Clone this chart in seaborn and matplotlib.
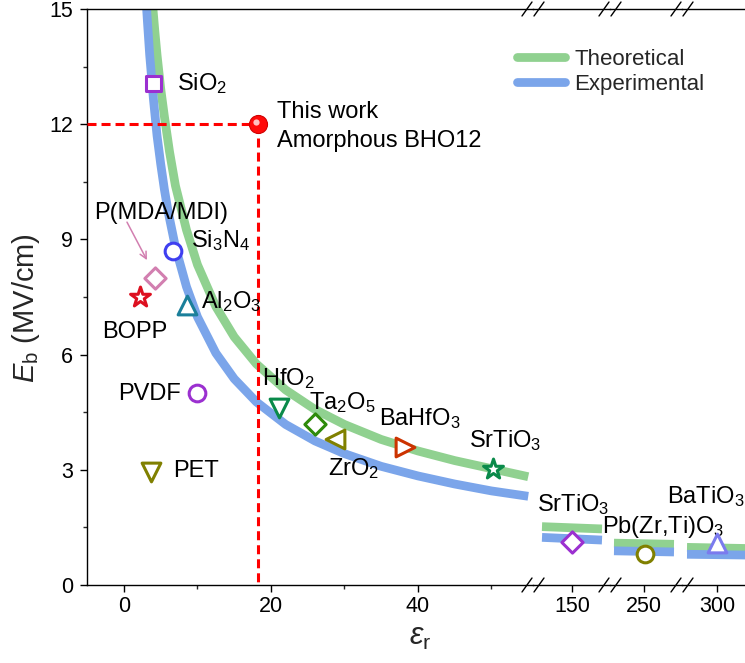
import numpy as np
import pandas as pd
import matplotlib
matplotlib.use("Agg")
import matplotlib.pyplot as plt
import seaborn as sns
from matplotlib.lines import Line2D
from matplotlib.ticker import NullLocator
from matplotlib.transforms import offset_copy

# ---------------- data ----------------
# segment 1 curves (eps_r 0..55)
theo_x1 = [3.9, 4.2, 4.5, 5.0, 5.5, 6.2, 7.0, 8.5, 10, 12.5, 15, 18, 22, 26, 30, 35, 40, 45, 50, 55]
theo_y1 = [15.1, 14.42, 13.8, 12.92, 12.2, 11.28, 10.4, 9.25, 8.34, 7.25, 6.46, 5.76, 5.08, 4.57, 4.18, 3.79, 3.49, 3.24, 3.03, 2.82]
exp_x1 = [2.95, 3.2, 3.5, 4.0, 4.5, 5.0, 5.5, 6.0, 7.0, 8.5, 10, 12.5, 15, 18, 22, 26, 30, 35, 40, 45, 50, 55]
exp_y1 = [15.4, 14.65, 13.8, 12.67, 11.7, 10.96, 10.3, 9.73, 8.8, 7.77, 6.98, 6.04, 5.37, 4.77, 4.18, 3.75, 3.42, 3.09, 2.84, 2.63, 2.45, 2.31]
# broken segments
theo_x2, theo_y2 = [140, 160], [1.52, 1.46]
exp_x2, exp_y2 = [140, 160], [1.24, 1.17]
theo_x3, theo_y3 = [240, 260], [1.09, 1.06]
exp_x3, exp_y3 = [240, 260], [0.89, 0.86]
theo_x4, theo_y4 = [290, 310], [0.98, 0.95]
exp_x4, exp_y4 = [290, 310], [0.80, 0.78]

# literature points: name, eps_r, Eb, marker, colour, segment
pt_names = ["SiO2", "Si3N4", "P(MDA/MDI)", "BOPP", "Al2O3", "PVDF", "PET", "HfO2",
            "Ta2O5", "ZrO2", "BaHfO3", "SrTiO3", "SrTiO3 (bulk)", "PZT", "BaTiO3"]
pt_x = [3.95, 6.67, 4.2, 2.24, 8.57, 10.0, 3.67, 21.1, 26.05, 28.7, 38.3, 50.2, 150, 250.3, 300]
pt_y = [13.07, 8.7, 8.0, 7.49, 7.28, 5.0, 2.93, 4.62, 4.2, 3.79, 3.59, 3.02, 1.11, 0.81, 1.09]
pt_marker = ["s", "o", "D", "*", "^", "o", "v", "v", "D", "<", ">", "*", "D", "o", "^"]
pt_color = ["#9B30D0", "#3F3FF0", "#D27FB0", "#DD1020", "#1B7F9A", "#9B30D0", "#808000",
            "#0A8A4A", "#2E8B0A", "#808000", "#CC3300", "#0A8A4A", "#9B30D0", "#808000", "#7B7BEE"]
pt_seg = [0, 0, 0, 0, 0, 0, 0, 0, 0, 0, 0, 0, 1, 2, 3]

# this work
this_x, this_y = 18.3, 12.0

# annotation labels: text, x, y (baseline), segment
lab_text = ["SiO$_2$", "This work", "Amorphous BHO12", "P(MDA/MDI)", "Si$_3$N$_4$", "BOPP",
            "Al$_2$O$_3$", "PVDF", "PET", "HfO$_2$", "Ta$_2$O$_5$", "ZrO$_2$", "BaHfO$_3$",
            "SrTiO$_3$", "SrTiO$_3$", "Pb(Zr,Ti)O$_3$", "BaTiO$_3$"]
lab_x = [7.25, 20.77, 20.77, -4.08, 9.07, -3.0, 10.43, -0.78, 6.62, 18.82, 25.2, 27.8, 34.7,
         46.98, 138.2, 235.9, 257.8]
lab_y = [12.88, 12.15, 11.41, 9.54, 8.81, 6.43, 7.2, 4.82, 2.82, 5.21, 4.58, 2.86, 4.17,
         3.6, 1.93, 1.35, 2.14]
lab_seg = [0] * 14 + [1, 2, 2]

series_names = ["Theoretical", "Experimental"]
yticks = [0, 3, 6, 9, 12, 15]
seg_xticks = [[0, 20, 40], [150], [250], [300]]
seg_xlims = [(-5.03, 55.65), (137.0, 162.67), (238.67, 262.67), (288.33, 309.33)]

# ---------------- style ----------------
sns.set_style("ticks")
plt.rcParams["font.family"] = ["Liberation Sans", "DejaVu Sans"]
plt.rcParams["mathtext.fontset"] = "custom"
plt.rcParams["mathtext.rm"] = "Liberation Sans"
plt.rcParams["mathtext.it"] = "Liberation Sans:italic"
plt.rcParams["mathtext.sf"] = "Liberation Sans"
plt.rcParams["mathtext.default"] = "regular"

GREEN = "#90D190"
BLUE = "#7BA5EA"
LW = 6.3

W, H = 745, 663
fig = plt.figure(figsize=(W / 100, H / 100), dpi=100)
fig.patch.set_facecolor("white")

def fx(px):
    return px / W

def fy(py):
    return 1 - py / H

bounds = [87, 533, 610, 682, 745]
bottom, top = fy(585), fy(9)
axes = []
for i in range(4):
    ax = fig.add_axes([fx(bounds[i]), bottom, fx(bounds[i + 1]) - fx(bounds[i]), top - bottom])
    ax.set_facecolor("none")
    ax.set_xlim(*seg_xlims[i])
    ax.set_ylim(0, 15)
    for s in ax.spines.values():
        s.set_linewidth(1.0)
        s.set_color("black")
    ax.spines["right"].set_visible(False)
    if i > 0:
        ax.spines["left"].set_visible(False)
        ax.tick_params(axis="y", left=False, labelleft=False, which="both")
    ax.set_xticks(seg_xticks[i])
    if i == 0:
        ax.set_xticks([10, 30, 50], minor=True)
        ax.set_yticks(yticks)
        ax.set_yticks([1.5, 4.5, 7.5, 10.5, 13.5], minor=True)
    else:
        ax.xaxis.set_minor_locator(NullLocator())
    ax.tick_params(which="major", direction="out", length=5, width=1, labelsize=15.5,
                   colors="black")
    ax.tick_params(which="minor", direction="out", length=3, width=1)
    ax.tick_params(axis="x", pad=3)
    ax.tick_params(axis="y", pad=5)
    axes.append(ax)

ax1 = axes[0]

# ---------------- curves ----------------
curve_sets = [
    (theo_x1, theo_y1, exp_x1, exp_y1),
    (theo_x2, theo_y2, exp_x2, exp_y2),
    (theo_x3, theo_y3, exp_x3, exp_y3),
    (theo_x4, theo_y4, exp_x4, exp_y4),
]
for ax, (tx, ty, ex, ey) in zip(axes, curve_sets):
    sns.lineplot(x=tx, y=ty, ax=ax, color=GREEN, linewidth=LW, sort=False,
                 estimator=None, solid_capstyle="butt", solid_joinstyle="round", zorder=2)
    sns.lineplot(x=ex, y=ey, ax=ax, color=BLUE, linewidth=LW, sort=False,
                 estimator=None, solid_capstyle="butt", solid_joinstyle="round", zorder=2)

# ---------------- dashed guide lines for this work ----------------
dash = (0, (2.95, 1.64))
ax1.plot([seg_xlims[0][0], this_x], [this_y, this_y], color="#FF0000", lw=2.2,
         linestyle=dash, zorder=3, clip_on=False)
ax1.plot([this_x, this_x], [this_y, 0], color="#FF0000", lw=2.2,
         linestyle=dash, zorder=3, clip_on=False)

# ---------------- markers ----------------
size_map = {"s": 10.8, "o": 12, "D": 10.8, "*": 15, "^": 13.5, "v": 13.5, "<": 13.5, ">": 13.5}
for n, x, y, m, c, sg in zip(pt_names, pt_x, pt_y, pt_marker, pt_color, pt_seg):
    sns.scatterplot(x=[x], y=[y], ax=axes[sg], marker=m, s=size_map[m] ** 2, color=c,
                    facecolor="white", edgecolor=c, linewidth=2.2, zorder=6, clip_on=False)

# this work sphere
sns.scatterplot(x=[this_x], y=[this_y], ax=ax1, marker="o", s=13 ** 2, color="#FF0A0A",
                edgecolor="#D00000", linewidth=0.8, zorder=7, clip_on=False)
hl = offset_copy(ax1.transData, fig=fig, x=-2.5, y=2.5, units="dots")
ax1.plot([this_x], [this_y], marker="o", ms=4.5, color="white", alpha=0.75, mew=0,
         transform=hl, zorder=8, clip_on=False)

# ---------------- annotations ----------------
for t, x, y, sg in zip(lab_text, lab_x, lab_y, lab_seg):
    axes[sg].text(x, y, t, fontsize=17, ha="left", va="baseline", color="black",
                  zorder=9, clip_on=False)

ax1.annotate("", xy=(3.13, 8.46), xytext=(0.41, 9.45),
             arrowprops=dict(arrowstyle="->", color="#D27FB0", lw=1.1,
                             shrinkA=0, shrinkB=0, mutation_scale=12))

# ---------------- axis labels ----------------
ax1.set_ylabel("$\\mathit{E}_\\mathrm{b}$ (MV/cm)", fontsize=21)
ax1.yaxis.set_label_coords((42 - 87) / 446, 0.481)
ax1.set_xlabel("$\\mathit{ε}_\\mathrm{r}$", fontsize=22)
ax1.xaxis.set_label_coords((420 - 87) / 446, -0.065)

# ---------------- axis break marks ----------------
for bx in [533, 610, 682]:
    for yy in [9, 585]:
        for dx in [-6, 6]:
            fig.add_artist(Line2D([fx(bx + dx - 5), fx(bx + dx + 5)],
                                  [fy(yy + 7), fy(yy - 7)],
                                  transform=fig.transFigure, color="black", lw=1.0))

# ---------------- legend ----------------
handles = [Line2D([], [], color=GREEN, lw=LW, solid_capstyle="round"),
           Line2D([], [], color=BLUE, lw=LW, solid_capstyle="round")]
fig.legend(handles, series_names, loc="upper left", bbox_to_anchor=(fx(517), fy(49)),
           frameon=False, fontsize=16, handlelength=2.17, handletextpad=0.42,
           labelspacing=0.19, borderpad=0, borderaxespad=0)

fig.savefig("out.png", dpi=100)
